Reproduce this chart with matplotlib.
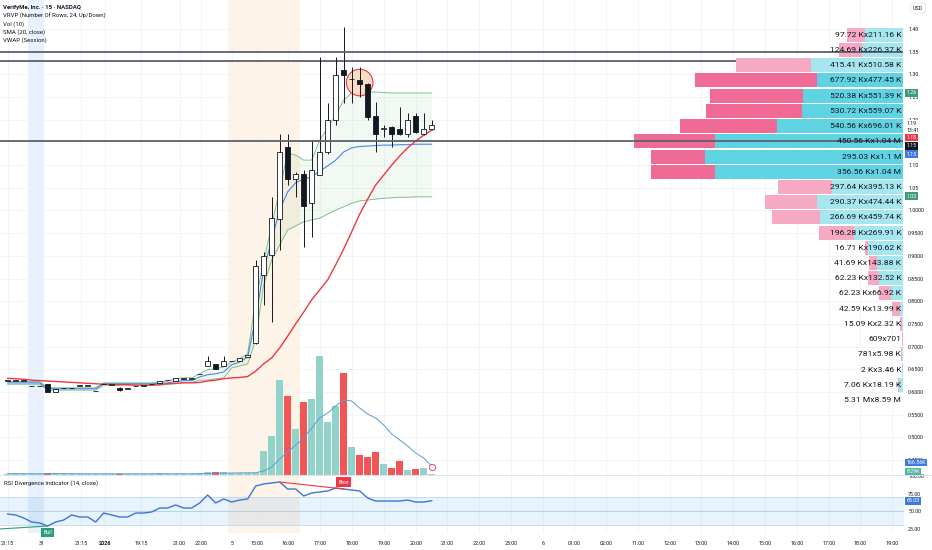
import numpy as np
import matplotlib.pyplot as plt
from matplotlib.patches import Ellipse
from matplotlib.lines import Line2D

plt.rcParams['font.family'] = ['Roboto', 'DejaVu Sans']

# ------- 15 min candles (bar index 0 = 21:15 on Dec 30) -------
opens = [0.625, 0.625, 0.625, 0.612, 0.612, 0.617, 0.600, 0.608, 0.608, 0.614,
         0.614, 0.601, 0.617, 0.616, 0.609, 0.607, 0.613, 0.614, 0.617, 0.619,
         0.626, 0.625, 0.629, 0.629, 0.639, 0.657, 0.661, 0.657, 0.668, 0.669,
         0.677, 0.708, 0.858, 0.902, 0.981, 1.140, 1.069, 1.080, 1.017, 1.078,
         1.129, 1.200, 1.310, 1.289, 1.288, 1.279, 1.208, 1.180, 1.184, 1.180,
         1.169, 1.208, 1.169, 1.179]
highs = [0.625, 0.625, 0.625, 0.612, 0.612, 0.618, 0.607, 0.608, 0.608, 0.614,
         0.614, 0.601, 0.617, 0.616, 0.610, 0.607, 0.613, 0.614, 0.617, 0.625,
         0.626, 0.630, 0.629, 0.629, 0.639, 0.679, 0.661, 0.679, 0.668, 0.674,
         0.681, 0.891, 0.909, 1.030, 1.169, 1.169, 1.085, 1.089, 1.155, 1.338,
         1.237, 1.338, 1.404, 1.316, 1.316, 1.282, 1.239, 1.188, 1.186, 1.228,
         1.215, 1.215, 1.215, 1.199]
lows = [0.625, 0.625, 0.625, 0.612, 0.612, 0.599, 0.599, 0.608, 0.608, 0.614,
        0.614, 0.601, 0.617, 0.616, 0.603, 0.607, 0.613, 0.614, 0.617, 0.619,
        0.626, 0.625, 0.629, 0.629, 0.639, 0.657, 0.651, 0.657, 0.668, 0.669,
        0.677, 0.706, 0.792, 0.755, 0.913, 1.056, 1.030, 0.920, 0.942, 1.078,
        1.125, 1.188, 1.237, 1.237, 1.250, 1.199, 1.129, 1.162, 1.140, 1.167,
        1.162, 1.171, 1.167, 1.178]
closes = [0.625, 0.625, 0.625, 0.612, 0.612, 0.600, 0.607, 0.608, 0.608, 0.614,
          0.614, 0.601, 0.617, 0.616, 0.604, 0.607, 0.613, 0.614, 0.617, 0.625,
          0.626, 0.630, 0.629, 0.629, 0.639, 0.669, 0.651, 0.669, 0.668, 0.674,
          0.681, 0.878, 0.900, 0.983, 1.129, 1.069, 1.080, 1.010, 1.089, 1.129,
          1.200, 1.299, 1.299, 1.289, 1.279, 1.206, 1.169, 1.180, 1.169, 1.169,
          1.199, 1.173, 1.180, 1.188]

# volume and Vol(10) average, in thousands
vol_k = [12, 8, 6, 10, 15, 40, 25, 10, 8, 12,
         9, 14, 20, 10, 18, 9, 8, 11, 10, 22,
         9, 20, 12, 10, 25, 60, 45, 50, 30, 35,
         40, 30, 470, 776, 1890, 1576, 916, 1450, 1516, 2370,
         1050, 1370, 2030, 550, 390, 350, 450, 210, 130, 270,
         90, 110, 130, 8.29]
vol_ma_k = [18, 17, 16, 15, 15, 17, 18, 17, 16, 16,
            15, 15, 16, 15, 15, 14, 14, 14, 14, 15,
            15, 16, 16, 15, 16, 20, 24, 28, 30, 32,
            34, 35, 70, 150, 310, 450, 590, 730, 930, 1130,
            1230, 1370, 1490, 1470, 1330, 1210, 1130, 990, 810, 690,
            570, 430, 330, 167]

sma20 = [0.630, 0.629, 0.628, 0.626, 0.625, 0.624, 0.623, 0.622, 0.621, 0.620,
         0.619, 0.618, 0.617, 0.616, 0.616, 0.616, 0.615, 0.615, 0.615, 0.616,
         0.618, 0.619, 0.620, 0.620, 0.621, 0.624, 0.626, 0.629, 0.631, 0.632,
         0.634, 0.646, 0.662, 0.675, 0.697, 0.723, 0.750, 0.776, 0.803, 0.825,
         0.847, 0.880, 0.915, 0.953, 0.992, 1.025, 1.056, 1.078, 1.100, 1.120,
         1.138, 1.153, 1.166, 1.177]

vwap_up = [0.623, 0.623, 0.623, 0.623, 0.623, 0.609, 0.609, 0.609, 0.609, 0.609,
           0.609, 0.609, 0.620, 0.620, 0.620, 0.620, 0.620, 0.620, 0.620, 0.622,
           0.624, 0.629, 0.631, 0.631, 0.640, 0.649, 0.651, 0.655, 0.666, 0.673,
           0.684, 0.803, 0.887, 0.968, 1.045, 1.127, 1.122, 1.111, 1.111, 1.155,
           1.182, 1.210, 1.243, 1.259, 1.261, 1.261, 1.261, 1.260, 1.259, 1.259,
           1.259, 1.259, 1.259, 1.259]
vwap = [0.620, 0.620, 0.620, 0.620, 0.620, 0.607, 0.607, 0.607, 0.607, 0.607,
        0.607, 0.607, 0.618, 0.618, 0.618, 0.618, 0.618, 0.618, 0.618, 0.619,
        0.620, 0.623, 0.625, 0.625, 0.633, 0.638, 0.640, 0.644, 0.660, 0.666,
        0.677, 0.763, 0.869, 0.935, 1.001, 1.041, 1.061, 1.069, 1.074, 1.087,
        1.098, 1.111, 1.129, 1.138, 1.141, 1.142, 1.143, 1.144, 1.144, 1.145,
        1.145, 1.146, 1.146, 1.146]
vwap_lo = [0.617, 0.617, 0.617, 0.617, 0.617, 0.604, 0.604, 0.604, 0.604, 0.604,
           0.604, 0.604, 0.615, 0.615, 0.615, 0.615, 0.615, 0.615, 0.615, 0.615,
           0.617, 0.618, 0.621, 0.621, 0.626, 0.626, 0.629, 0.631, 0.653, 0.657,
           0.662, 0.715, 0.836, 0.891, 0.924, 0.957, 0.966, 0.975, 0.979, 0.983,
           0.992, 1.001, 1.008, 1.016, 1.021, 1.023, 1.025, 1.027, 1.028, 1.029,
           1.029, 1.030, 1.030, 1.030]

rsi = [46.2, 44.8, 40.6, 34.9, 33.5, 29.2, 34.9, 37.7, 44.8, 42.0,
       42.0, 34.9, 47.6, 44.8, 42.0, 42.0, 47.6, 47.6, 49.1, 54.7,
       54.7, 59.0, 54.7, 54.7, 61.8, 73.1, 61.8, 67.5, 63.2, 66.0,
       67.5, 85.8, 88.7, 90.1, 91.5, 81.6, 81.6, 71.7, 75.9, 77.4,
       78.8, 83.0, 81.6, 80.2, 78.8, 68.9, 64.6, 64.6, 64.6, 64.6,
       66.0, 63.2, 63.2, 65.0]
bull_x, bull_y = [-1, 5], [25.0, 29.2]
bear_x, bear_y = [34, 42], [91.5, 81.6]

# VRVP rows (top to bottom): down x up volume
prof_down = [97720, 124690, 415410, 677920, 520380, 530720, 540560, 450560,
             295030, 356560, 297640, 290370, 266690, 196280, 16710, 41690,
             62230, 62230, 42590, 15090, 609, 781, 2000, 7060]
prof_up = [211160, 226370, 510580, 477450, 551390, 559070, 696010, 1040000,
           1100000, 1040000, 395130, 474440, 459740, 269910, 190620, 143880,
           132520, 66920, 13990, 2320, 701, 5980, 3460, 18190]
value_area = [3, 4, 5, 6, 7, 8, 9]

h_levels = [1.35, 1.33, 1.153]
circle_bar, circle_price = 44, 1.282

tick_pos = [0, 4.2, 9.2, 12.2, 16.7, 21.5, 24.2, 28, 31.2, 35, 39, 43, 47, 51,
            54.9, 58.9, 62.9, 66.9, 70.8, 74.8, 78.8, 82.8, 86.7, 90.7, 94.7,
            98.7, 102.7, 106.6, 110.5]
tick_labels = ['21:15', '31', '21:15', '2026', '19:15', '21:00', '22:00', '5',
               '15:00', '16:00', '17:00', '18:00', '19:00', '20:00', '21:00',
               '22:00', '23:00', '6', '01:00', '02:00', '11:00', '12:00', '13:00',
               '14:00', '15:00', '16:00', '17:00', '18:00', '19:00']
price_ticks = [1.40, 1.35, 1.30, 1.25, 1.20, 1.10, 1.05, 1.00, 0.95, 0.90, 0.85,
               0.80, 0.75, 0.70, 0.65, 0.60, 0.55, 0.50, 0.45]
price_labels = ['1.40', '1.35', '1.30', '1.25', '1.20', '1.10', '1.05', '1.0000',
                '0.9500', '0.9000', '0.8500', '0.8000', '0.7500', '0.7000',
                '0.6500', '0.6000', '0.5500', '0.5000', '0.4500']

TXT = '#131722'
GRID = '#f0f2f6'
UP_VOL, DN_VOL = '#92d3c9', '#f25555'
BLUE_BG, ORANGE_BG = '#e8effd', '#fdf3e6'


def fmt_vol(v):
    if v >= 1e6:
        return ('%.2f' % (v / 1e6)).rstrip('0').rstrip('.') + ' M'
    if v >= 1e3:
        return ('%.2f' % (v / 1e3)).rstrip('0').rstrip('.') + ' K'
    return '%d' % v


W, H = 932, 550
fig = plt.figure(figsize=(W / 100, H / 100), dpi=100)
ax = fig.add_axes([0, 75.5 / H, 904 / W, 474.5 / H])
axr = fig.add_axes([0, 17 / H, 904 / W, 58.5 / H])

x = np.arange(len(opens))
xlim = (-0.96, 112.04)

# ------- price panel -------
ax.set_xlim(*xlim)
ax.set_ylim(0.418, 1.4639)
ax.fill_between([2.6, 4.6], 0.418, 1.4639, color=BLUE_BG, lw=0, zorder=0)
ax.fill_between([27.5, 36.5], 0.418, 1.33, color=ORANGE_BG, lw=0, zorder=0)
ax.fill_between([27.5, 36.5], 1.35, 1.4639, color=ORANGE_BG, lw=0, zorder=0)

ax.fill_between(x, vwap_lo, vwap_up, color='#4caf50', alpha=0.07, lw=0, zorder=1)
ax.plot(x, vwap_up, color='#7cc38a', lw=0.7, zorder=2)
ax.plot(x, vwap_lo, color='#7cc38a', lw=0.7, zorder=2)
ax.plot(x, vwap, color='#4a86e8', lw=0.8, zorder=2)
ax.plot(x, sma20, color='#f23645', lw=1.0, zorder=2)

ax.add_patch(Ellipse((circle_bar, circle_price), 26.6 / 8, 26.6 / 453.7,
                     fc='#f9dcc6', ec='#f23645', lw=0.8, zorder=2.5))

o, c = np.array(opens), np.array(closes)
up = c >= o
ax.vlines(x, lows, highs, color=TXT, lw=0.7, zorder=3)
body = np.maximum(np.abs(c - o), 0.0008)
ax.bar(x, body, bottom=np.minimum(o, c), width=0.7,
       color=np.where(up, 'white', TXT), edgecolor=TXT, lw=0.6, zorder=3.5)

# horizontal levels
ax.hlines(h_levels[1], xlim[0], 111.9, color='#5d606b', lw=1.3, zorder=1.5)
ax.hlines([h_levels[0], h_levels[2]], xlim[0], 111.9, color='#5d606b', lw=1.3, zorder=5)

# volume profile
top, bot = max(highs), min(lows)
rows = len(prof_up)
rh = (top - bot) / rows
centers = top - (np.arange(rows) + 0.5) * rh
x_r = 111.875
scale = 0.297 * (xlim[1] - xlim[0]) / max(d + u for d, u in zip(prof_down, prof_up))
wu = np.array(prof_up) * scale
wd = np.array(prof_down) * scale
in_va = np.isin(np.arange(rows), value_area)
ax.barh(centers, wu, left=x_r - wu, height=rh * 0.92,
        color=np.where(in_va, '#5fd3e2', '#a6e6ee'), lw=0, zorder=4)
ax.barh(centers, wd, left=x_r - wu - wd, height=rh * 0.92,
        color=np.where(in_va, '#f06a96', '#f6a9c2'), lw=0, zorder=4)
for k in range(rows):
    ax.text(111.7, centers[k], fmt_vol(prof_down[k]) + 'x' + fmt_vol(prof_up[k]),
            ha='right', va='center', fontsize=6.1, color=TXT, zorder=6)
ax.text(111.7, bot - rh / 2, fmt_vol(sum(prof_down)) + 'x' + fmt_vol(sum(prof_up)),
        ha='right', va='center', fontsize=6.1, color=TXT, zorder=6)

ax.set_xticks(tick_pos)
ax.set_yticks(price_ticks)
ax.grid(True, color=GRID, lw=0.6, zorder=0.5)
ax.set_axisbelow(True)

# volume overlay
axv = ax.twinx()
axv.set_ylim(0, 9490)
axv.bar(x, vol_k, width=0.85, color=np.where(up, UP_VOL, DN_VOL), lw=0)
axv.plot(x, vol_ma_k, color='#5b9bd5', lw=0.7)
axv.plot([x[-1]], [150], 'o', ms=4.5, mfc='white', mec='#e04880', mew=0.7)
axv.set_yticks([])
for s in axv.spines.values():
    s.set_visible(False)

ax.yaxis.tick_right()
ax.set_yticklabels(price_labels)
ax.tick_params(axis='y', length=0, pad=3, labelsize=3.9, labelcolor=TXT)
ax.tick_params(axis='x', length=0, labelbottom=False)
for s in ax.spines.values():
    s.set_visible(False)

# ------- RSI panel -------
axr.set_xlim(*xlim)
axr.set_ylim(19.34, 102.12)
axr.axvspan(2.6, 4.6, color=BLUE_BG, lw=0, zorder=0)
axr.axvspan(27.5, 36.5, color=ORANGE_BG, lw=0, zorder=0)
axr.axhspan(30, 70, color='#2196f3', alpha=0.1, lw=0, zorder=0.6)
axr.axhline(70, color='#c3d6ea', lw=0.6, zorder=0.7)
axr.axhline(30, color='#c3d6ea', lw=0.6, zorder=0.7)
axr.axhline(50, color='#b5c9df', lw=0.6, zorder=0.7)
axr.plot(x, rsi, color='#3a75d8', lw=1.0, zorder=3)
axr.plot(bull_x, bull_y, color='#2e9d7e', lw=0.8, zorder=3)
axr.plot(bear_x, bear_y, color='#f23645', lw=0.8, zorder=3)
axr.text(5, 20.0, 'Bull', ha='center', va='center', fontsize=3.8, color='white',
         bbox=dict(boxstyle='square,pad=0.45', fc='#2e9d7e', ec='none'),
         zorder=4, clip_on=False)
axr.text(42, 91.5, 'Bear', ha='center', va='center', fontsize=3.8, color='white',
         bbox=dict(boxstyle='square,pad=0.45', fc='#f23645', ec='none'), zorder=4)

axr.set_xticks(tick_pos)
axr.set_xticklabels(tick_labels)
axr.tick_params(axis='x', length=0, pad=6, labelsize=3.9, labelcolor=TXT)
axr.get_xticklabels()[3].set_fontweight('bold')
axr.yaxis.tick_right()
axr.set_yticks([100, 75, 50, 25])
axr.set_yticklabels(['100.00', '75.00', '50.00', '25.00'])
axr.tick_params(axis='y', length=0, pad=3, labelsize=3.9, labelcolor=TXT)
axr.grid(True, axis='x', color=GRID, lw=0.6, zorder=0.5)
axr.set_axisbelow(True)
for s in axr.spines.values():
    s.set_visible(False)

fig.add_artist(Line2D([0, 1], [75.5 / H] * 2, color='#e0e3eb', lw=0.8))

# ------- texts and price badges -------
def ftext(px, py, s, **kw):
    fig.text(px / W, 1 - py / H, s, **kw)


ftext(3, 7.3, 'VerifyMe, Inc. · 15 · NASDAQ', fontsize=4.3, fontweight='bold',
      color=TXT, va='center')
for i, s in enumerate(['VRVP (Number Of Rows, 24, Up/Down)', 'Vol (10)',
                       'SMA (20, close)', 'VWAP (Session)']):
    ftext(3, 15.7 + 8 * i, s, fontsize=4.3, color=TXT, va='center')
ftext(4, 483, 'RSI Divergence Indicator (14, close)', fontsize=4.3, color=TXT,
      va='center')
ftext(918, 8, 'USD', fontsize=3.8, color=TXT, ha='center', va='center',
      bbox=dict(boxstyle='round,pad=0.5', fc='white', ec='#e0e3eb', lw=0.5))

badges = [('1.26', 93, '#3d9a7a'), ('1.18', 137.5, '#f23645'),
          ('1.15', 146, TXT), ('1.15', 154, '#3f7ae0'), ('1.03', 196, '#3d9a7a'),
          ('166.56K', 462.5, '#3f7ae0'), ('8.29K', 471.5, '#4fb59f'),
          ('65.03', 501, '#3f7ae0')]
for s, py, col in badges:
    ftext(906.5, py, s, fontsize=3.8, color='white', va='center',
          bbox=dict(boxstyle='square,pad=0.2', fc=col, ec='none'))
ftext(906.5, 123.5, '1.19', fontsize=3.8, color=TXT, va='center',
      bbox=dict(boxstyle='square,pad=0.2', fc='white', ec='none'))
ftext(906.5, 130, '13:41', fontsize=3.8, color=TXT, va='center',
      bbox=dict(boxstyle='square,pad=0.2', fc='white', ec='none'))

fig.savefig('out.png', dpi=100)
